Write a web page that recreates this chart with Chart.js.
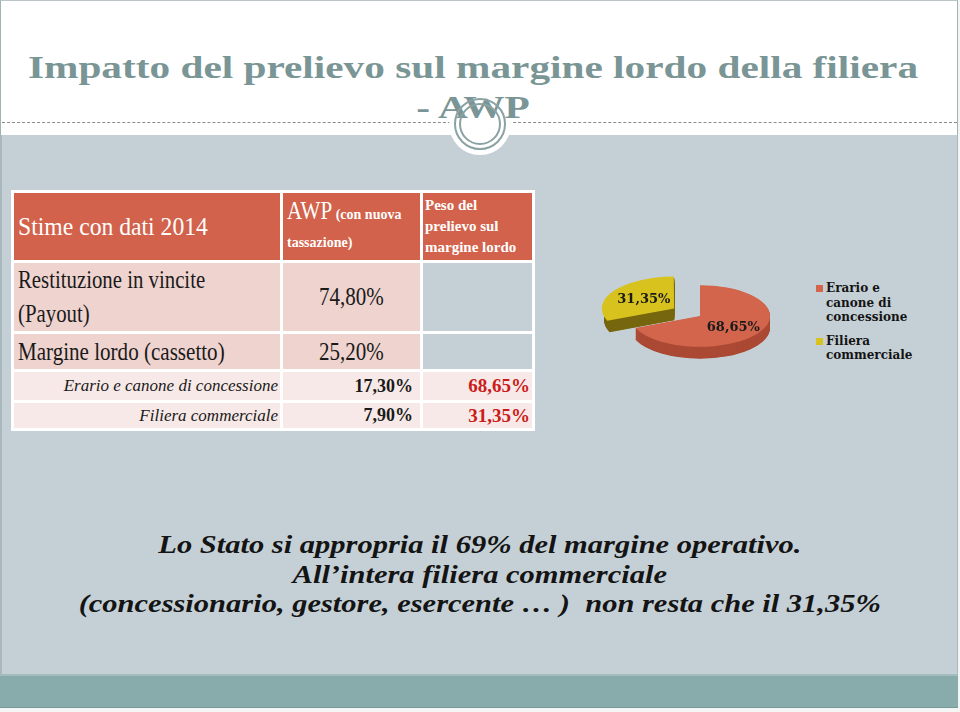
<!DOCTYPE html>
<html><head><meta charset="utf-8">
<script src="https://cdn.jsdelivr.net/npm/chart.js@4.4.1/dist/chart.umd.min.js"></script>
<style>
html,body{margin:0;padding:0;}
body{width:960px;height:712px;position:relative;overflow:hidden;background:#f4f6f6;font-family:"Liberation Serif","Times New Roman",Times,"DejaVu Serif";}
#head{position:absolute;left:0;top:0;width:958px;height:135px;background:#fff;border-left:1px solid #9fb2b4;border-right:1px solid #9fb2b4;border-top:1px solid #b9c6c7;box-sizing:border-box;}
#dash{position:absolute;left:2px;top:122px;width:955px;border-top:1px dashed #8c8c8c;}
#body{position:absolute;left:0;top:135px;width:958px;height:539px;background:#c5d0d6;border-left:2px solid #a9b8bc;border-right:1px solid #a9b8bc;box-sizing:border-box;}
#band{position:absolute;left:0;top:674px;width:958px;height:34px;background:#88acab;border-top:2px solid #a3bcbd;border-bottom:1px solid #7b9898;box-sizing:border-box;}
#disc{position:absolute;left:449px;top:93px;width:62px;height:62px;border-radius:50%;background:#fff;}
#ring1{position:absolute;left:454px;top:98px;width:48px;height:48px;border-radius:50%;border:2px solid #8aa2a2;}
#ring2{position:absolute;left:459px;top:103px;width:38px;height:38px;border-radius:50%;border:2px solid #8aa2a2;}
#title{position:absolute;left:0;top:47px;width:946px;text-align:center;font-weight:bold;font-size:32px;line-height:40px;color:#7a9595;transform:scaleX(1.29);transform-origin:473px 0;white-space:nowrap;}
#tbl{position:absolute;left:11px;top:190px;border-collapse:separate;border-spacing:3px;background:#fff;table-layout:fixed;}
#tbl td{padding:0;overflow:hidden;box-sizing:border-box;}
.hd{background:#d2624b;color:#fff;}
.r1{background:#efd3cf;}
.r2{background:#f7e9e7;}
.gap{background:#c5d0d6;}
.cn{white-space:nowrap;}
#bottom{position:absolute;left:0;top:530px;width:960px;text-align:center;font-weight:bold;font-style:italic;font-size:25px;line-height:29.5px;color:#141414;transform:scaleX(1.22);transform-origin:481px 0;white-space:nowrap;}
#legend{position:absolute;left:816px;top:281px;font-family:"DejaVu Serif";font-weight:bold;font-size:12px;line-height:14.5px;color:#141414;}
.li{position:relative;padding-left:10px;margin-bottom:9px;}
.sq{position:absolute;left:0;top:4px;width:7px;height:7px;}
#pie{position:absolute;left:590px;top:206px;}
</style></head>
<body>
<div id="head"></div>
<div id="dash"></div>
<div id="body"></div>
<div id="band"></div>
<div id="disc"></div>
<div id="title">Impatto del prelievo sul margine lordo della filiera<br>- AWP</div>
<div id="ring1"></div><div id="ring2"></div>
<table id="tbl"></table>
<canvas id="pie" width="220" height="220"></canvas>
<div id="legend"></div>
<div id="bottom">Lo Stato si appropria il 69% del margine operativo.<br>All’intera filiera commerciale<br>(concessionario, gestore, esercente … )&nbsp; non resta che il 31,35%</div>
<script>
// ---- data ----
const categories = ["Erario e canone di concessione", "Filiera commerciale"];
const legendLabels = [["Erario e","canone di","concessione"], ["Filiera","commerciale"]];
const shareOfMargin = [68.65, 31.35];      // Peso del prelievo sul margine lordo
const awpRates = [17.30, 7.90];            // AWP (con nuova tassazione)
const payoutRate = 74.80;
const grossMargin = 25.20;
const rowLabels = ["Restituzione in vincite", "(Payout)", "Margine lordo (cassetto)"];
const headerLabels = ["Stime con dati 2014", "AWP", "(con nuova", "tassazione)", "Peso del", "prelievo sul", "margine lordo"];
const topColors = ["#d3654c", "#d8c21d"];
const sideColors = ["#ab4a35", "#77670f"];

const fmt = v => v.toFixed(2).replace('.', ',') + '%';
const sx = (txt, s, origin) => '<div class="cn" style="transform:scaleX(' + s + ');transform-origin:' + origin + '">' + txt + '</div>';

// ---- table ----
const tbl = document.getElementById('tbl');
tbl.innerHTML =
 '<colgroup><col style="width:266px"><col style="width:137px"><col style="width:109px"></colgroup>' +
 '<tr style="height:67px">' +
   '<td class="hd" style="padding-left:4px;font-size:26px">' + sx(headerLabels[0], 0.91, 'left') + '</td>' +
   '<td class="hd" style="padding-left:4px;line-height:27px"><span style="display:inline-block;font-size:26px;transform:scaleX(0.81);transform-origin:left;margin-right:-11px">' + headerLabels[1] + '</span> <span style="font-size:14px;font-weight:bold">' + headerLabels[2] + '</span><br><span style="font-size:14px;font-weight:bold">' + headerLabels[3] + '</span></td>' +
   '<td class="hd" style="padding-left:2px;font-size:15px;font-weight:bold;line-height:21px;vertical-align:middle">' + headerLabels.slice(4).join('<br>') + '</td>' +
 '</tr>' +
 '<tr style="height:64px">' +
   '<td class="r1" style="padding-left:4px;font-size:26px;line-height:34px;color:#1a1a1a">' + sx(rowLabels[0] + '<br>' + rowLabels[1], 0.8, 'left') + '</td>' +
   '<td class="r1" style="text-align:center;font-size:25px;color:#1a1a1a">' + sx(fmt(payoutRate), 0.84, 'center') + '</td>' +
   '<td class="gap"></td>' +
 '</tr>' +
 '<tr style="height:35px">' +
   '<td class="r1" style="padding-left:4px;font-size:26px;line-height:30px;color:#1a1a1a">' + sx(rowLabels[2], 0.81, 'left') + '</td>' +
   '<td class="r1" style="text-align:center;font-size:25px;line-height:30px;color:#1a1a1a">' + sx(fmt(grossMargin), 0.84, 'center') + '</td>' +
   '<td class="gap"></td>' +
 '</tr>' +
 categories.map((c, i) =>
 '<tr style="height:' + (i === 0 ? 28 : 25) + 'px">' +
   '<td class="r2" style="text-align:right;padding-right:2px;font-style:italic;font-size:17px;color:#1a1a1a;white-space:nowrap">' + c + '</td>' +
   '<td class="r2" style="text-align:right;padding-right:7px;font-weight:bold;font-size:18px;color:#1a1a1a">' + fmt(awpRates[i]) + '</td>' +
   '<td class="r2" style="text-align:right;padding-right:2px;font-weight:bold;font-size:19px;color:#cc1b1b">' + fmt(shareOfMargin[i]) + '</td>' +
 '</tr>').join('');

// ---- legend ----
document.getElementById('legend').innerHTML = legendLabels.map((l, i) =>
  '<div class="li"><span class="sq" style="background:' + topColors[i] + '"></span>' + l.join('<br>') + '</div>').join('');

// ---- 3D-looking pie ----
const K = 0.44;        // vertical squash
const DEPTH = 12;      // side height in px
const OFFSETS = [0, 124];

// replicate Chart.js v4 arc offset translation (offset / 4 along the mid angle)
function arcShift(arc) {
  const p = arc.getProps(['startAngle', 'endAngle']);
  const half = (p.startAngle + p.endAngle) / 2;
  const o = (arc.options.offset || 0) / 4;
  return { dx: Math.cos(half) * o, dy: Math.sin(half) * o, half };
}

const pie3d = {
  id: 'pie3d',
  beforeDatasetsDraw(chart) {
    const ctx = chart.ctx;
    const meta = chart.getDatasetMeta(0);
    const cx = (chart.chartArea.left + chart.chartArea.right) / 2;
    const cy = (chart.chartArea.top + chart.chartArea.bottom) / 2;
    ctx.save();
    ctx.translate(cx, cy);
    ctx.scale(1, K);
    ctx.translate(-cx, -cy);
    const steps = Math.round(DEPTH / K);
    for (let s = steps; s >= 1; s--) {
      meta.data.forEach((arc, i) => {
        const p = arc.getProps(['x', 'y', 'startAngle', 'endAngle', 'outerRadius']);
        const sh = arcShift(arc);
        const x = p.x + sh.dx, y = p.y + sh.dy + s;
        ctx.beginPath();
        ctx.moveTo(x, y);
        ctx.arc(x, y, p.outerRadius, p.startAngle, p.endAngle);
        ctx.closePath();
        ctx.fillStyle = sideColors[i];
        ctx.fill();
      });
    }
  },
  afterDatasetsDraw(chart) {
    const ctx = chart.ctx;
    ctx.restore();
    const cy = (chart.chartArea.top + chart.chartArea.bottom) / 2;
    const meta = chart.getDatasetMeta(0);
    ctx.save();
    ctx.font = 'bold 13px "DejaVu Serif"';
    ctx.fillStyle = '#1a1a1a';
    ctx.textAlign = 'center';
    ctx.textBaseline = 'middle';
    meta.data.forEach((arc, i) => {
      const p = arc.getProps(['x', 'y', 'outerRadius']);
      const sh = arcShift(arc);
      const r = p.outerRadius * 0.52;
      const ux = p.x + sh.dx + Math.cos(sh.half) * r;
      const uy = p.y + sh.dy + Math.sin(sh.half) * r;
      ctx.fillText(fmt(shareOfMargin[i]), ux + (i === 0 ? 3 : 0), cy + (uy - cy) * K + (i === 0 ? 3 : 0));
    });
    ctx.restore();
  }
};

new Chart(document.getElementById('pie'), {
  type: 'pie',
  data: {
    labels: categories,
    datasets: [{
      data: shareOfMargin,
      backgroundColor: topColors,
      borderWidth: 0,
      offset: OFFSETS
    }]
  },
  options: {
    responsive: false,
    animation: false,
    radius: 70,
    layout: { padding: 0 },
    plugins: { legend: { display: false }, tooltip: { enabled: false } }
  },
  plugins: [pie3d]
});
</script>
</body></html>
